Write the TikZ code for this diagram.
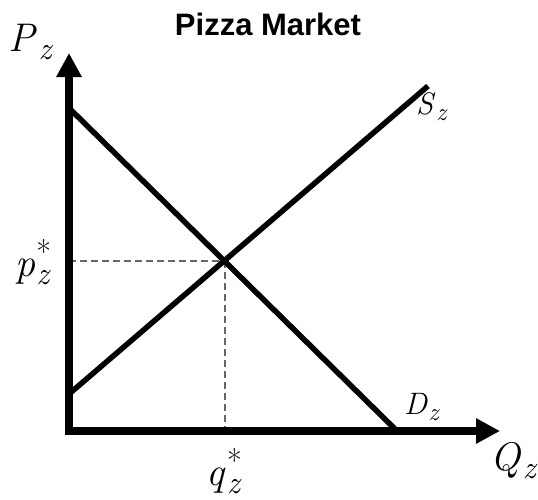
\documentclass[tikz,border=0pt]{standalone}
\usepackage{fontspec}
\setmainfont{Latin Modern Roman}
\newfontfamily\titlefont{Liberation Sans}
\newcommand\vsub[2]{\textit{#1}\kern0.03em\raisebox{-0.2em}{\scalebox{0.8}{\textit{#2}}}}
\newcommand\vsubst[2]{\textit{#1}\kern0.03em\rlap{\raisebox{0.34em}{\scalebox{0.8}{*}}}\raisebox{-0.2em}{\scalebox{0.8}{\textit{#2}}}}
\usetikzlibrary{arrows.meta}
\begin{document}
\begin{tikzpicture}[x=1pt,y=-1pt,
  axis/.style={line width=7.5pt,-{Triangle[length=24pt,width=24pt]}},
  curve/.style={line width=5.5pt},
  guide/.style={line width=2.5pt,dash pattern=on 7pt off 4pt,black!60},
  lbl/.style={inner sep=0pt,font=\fontsize{40}{42}\selectfont},
  slbl/.style={inner sep=0pt,font=\fontsize{31}{33}\selectfont}]
\useasboundingbox (0,0) rectangle (538,499);
\coordinate (O) at (69,431);
\coordinate (Ytip) at (69,53);
\coordinate (Xtip) at (500,431);
\coordinate (Dtop) at (69,108);
\coordinate (Dbot) at (397,431);
\coordinate (Sbot) at (69,394);
\coordinate (Stop) at (428,86);
\coordinate (E) at (225,261);
\coordinate (Ey) at (69,261);
\coordinate (Ex) at (225,431);
\draw[guide] (Ey) -- (E);
\draw[guide] (E) -- (Ex);
\draw[curve] (Dtop) -- (Dbot);
\draw[curve] (Sbot) -- (Stop);
\draw[axis] ([yshift=3.75pt]O) -- (Ytip);
\draw[axis] ([xshift=-3.75pt]O) -- (Xtip);
\node[font=\titlefont\bfseries\fontsize{31}{33}\selectfont] (title) at (268,24) {Pizza Market};
\node[lbl] (Pz) at (31,42) {\vsub{P}{z}};
\node[lbl] (Qz) at (514,461) {\vsub{Q}{z}};
\node[lbl] (qs) at (224,471) {\vsubst{q}{z}};
\node[lbl] (ps) at (33,262) {\vsubst{p}{z}};
\node[slbl] (Sz) at (432,107) {\vsub{S}{z}};
\node[slbl] (Dz) at (422,407) {\vsub{D}{z}};
\end{tikzpicture}
\end{document}
